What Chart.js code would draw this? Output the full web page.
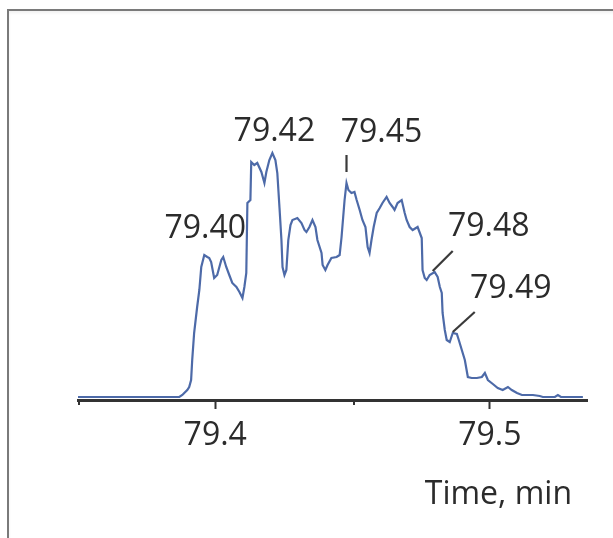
<!DOCTYPE html>
<html>
<head>
<meta charset="utf-8">
<title>Chromatogram</title>
<script src="https://cdn.jsdelivr.net/npm/chart.js@4.4.1/dist/chart.umd.min.js"></script>
<style>
  html, body { margin: 0; padding: 0; background: #fff; }
  #wrap { position: relative; width: 613px; height: 538px; overflow: hidden; }
  #frame {
    position: absolute; left: 7px; top: 9px; right: -4px; bottom: -4px;
    border-left: 2px solid #7a7a7a; border-top: 2px solid #7a7a7a;
    box-shadow: inset 0 2px 3px rgba(0, 0, 0, 0.06);
  }
  canvas { position: absolute; left: 0; top: 0; }
</style>
</head>
<body>
<div id="wrap">
  <div id="frame"></div>
  <canvas id="chart" width="613" height="538"></canvas>
</div>
<script>
// Trace (time in min, intensity in arbitrary units)
const times = [
  79.3500, 79.3869, 79.3880, 79.3887, 79.3898, 79.3905, 79.3912, 79.3916, 79.3923, 79.3934,
  79.3942, 79.3949, 79.3960, 79.3971, 79.3978, 79.3985, 79.3996, 79.4007, 79.4022, 79.4029,
  79.4040, 79.4051, 79.4062, 79.4077, 79.4088, 79.4099, 79.4106, 79.4113, 79.4117, 79.4128,
  79.4131, 79.4142, 79.4153, 79.4168, 79.4179, 79.4186, 79.4197, 79.4208, 79.4219, 79.4226,
  79.4234, 79.4241, 79.4245, 79.4252, 79.4259, 79.4266, 79.4274, 79.4281, 79.4299, 79.4314,
  79.4325, 79.4332, 79.4343, 79.4354, 79.4365, 79.4372, 79.4387, 79.4391, 79.4401, 79.4409,
  79.4423, 79.4442, 79.4453, 79.4460, 79.4471, 79.4478, 79.4485, 79.4496, 79.4507, 79.4515,
  79.4526, 79.4536, 79.4547, 79.4555, 79.4562, 79.4569, 79.4577, 79.4588, 79.4599, 79.4609,
  79.4624, 79.4635, 79.4646, 79.4653, 79.4664, 79.4679, 79.4690, 79.4697, 79.4708, 79.4719,
  79.4737, 79.4752, 79.4755, 79.4763, 79.4770, 79.4781, 79.4799, 79.4810, 79.4818, 79.4825,
  79.4828, 79.4836, 79.4843, 79.4854, 79.4865, 79.4880, 79.4887, 79.4898, 79.4909, 79.4920,
  79.4934, 79.4953, 79.4971, 79.4982, 79.4993, 79.5011, 79.5029, 79.5047, 79.5066, 79.5080,
  79.5099, 79.5117, 79.5157, 79.5182, 79.5193, 79.5237, 79.5248, 79.5259, 79.5339
];
const intensity = [
  3, 3, 5, 7, 10, 13, 20, 40, 67, 93,
  110, 133, 145, 143, 142, 138, 122, 125, 140, 143,
  133, 125, 117, 113, 108, 102, 113, 127, 197, 200,
  238, 235, 237, 228, 217, 228, 240, 247, 240, 227,
  192, 160, 133, 125, 130, 160, 175, 180, 182, 177,
  170, 168, 173, 180, 173, 160, 147, 135, 130, 135,
  142, 143, 145, 163, 200, 217, 210, 207, 208, 200,
  190, 180, 173, 153, 147, 160, 173, 187, 192, 197,
  203, 197, 193, 190, 197, 200, 187, 180, 173, 170,
  173, 162, 130, 122, 120, 125, 128, 123, 113, 107,
  87, 70, 60, 58, 67, 66, 60, 50, 40, 23,
  22, 22, 23, 27, 20, 16, 12, 10, 13, 10,
  7, 5, 5, 4, 3, 3, 5, 3, 3
];

// Labelled peaks
const peakTimes = [79.3960, 79.4208, 79.4478, 79.4792, 79.4865];
const peakIntensity = [145, 247, 217, 127, 67];

// Axis
const majorTicks = [79.4, 79.5];
const minorTicks = [79.35, 79.45];
const xMin = 79.35, xMax = 79.5354;
const yMax = 350;

const FONT = "'Open Sans', 'Noto Sans', sans-serif";
const TEXT = "#2b2b2b";
const AXIS = "#333333";

// label offsets from the peak point, and leader lines (pixels)
const labelStyle = [
  { dx: 1, dy: -29, lead: null },
  { dx: 2, dy: -24, lead: null },
  { dx: 35, dy: -53, lead: [0, -11, 0, -28] },
  { dx: 56, dy: -49, lead: [0, -2, 20, -22] },
  { dx: 58, dy: -47, lead: [0, -1, 22, -21] }
];

const annotations = {
  id: "annotations",
  afterDraw(chart) {
    const { ctx, scales: { x, y } } = chart;
    ctx.save();

    // minor ticks
    ctx.strokeStyle = AXIS;
    ctx.lineWidth = 2;
    minorTicks.forEach(v => {
      const px = Math.round(x.getPixelForValue(v)) + 1;
      ctx.beginPath();
      ctx.moveTo(px, y.bottom);
      ctx.lineTo(px, y.bottom + 5);
      ctx.stroke();
    });

    // peak labels
    ctx.font = "32px " + FONT;
    ctx.fillStyle = TEXT;
    ctx.textAlign = "center";
    ctx.textBaseline = "alphabetic";
    peakTimes.forEach((t, i) => {
      const px = x.getPixelForValue(t);
      const py = y.getPixelForValue(peakIntensity[i]);
      const s = labelStyle[i];
      ctx.fillText(t.toFixed(2), px + s.dx, py + s.dy + 11.5);
      if (s.lead) {
        ctx.strokeStyle = "#3a3a3a";
        ctx.lineWidth = 2.2;
        ctx.beginPath();
        ctx.moveTo(px + s.lead[0], py + s.lead[1]);
        ctx.lineTo(px + s.lead[2], py + s.lead[3]);
        ctx.stroke();
      }
    });

    // axis title
    ctx.textAlign = "right";
    ctx.fillText("Time, min", x.right - 15, y.bottom + 104);
    ctx.restore();
  }
};

new Chart(document.getElementById("chart"), {
  type: "line",
  data: {
    datasets: [{
      data: times.map((t, i) => ({ x: t, y: intensity[i] })),
      borderColor: "#4d6aa8",
      borderWidth: 2.2,
      pointRadius: 0,
      tension: 0,
      fill: false
    }]
  },
  options: {
    responsive: false,
    animation: false,
    layout: { padding: { left: 78, right: 26, top: 50, bottom: 0 } },
    plugins: { legend: { display: false }, tooltip: { enabled: false } },
    scales: {
      x: {
        type: "linear",
        min: xMin,
        max: xMax,
        afterBuildTicks: s => { s.ticks = majorTicks.map(v => ({ value: v })); },
        afterFit: s => { s.height = 138; },
        ticks: {
          callback: v => v.toFixed(1),
          font: { family: FONT, size: 32 },
          color: TEXT,
          padding: 8,
          maxRotation: 0,
          autoSkip: false
        },
        grid: { drawOnChartArea: false, tickLength: 9, tickColor: AXIS, tickWidth: 2 },
        border: { color: AXIS, width: 3 }
      },
      y: { display: false, min: 0, max: yMax }
    }
  },
  plugins: [annotations]
});
</script>
</body>
</html>
